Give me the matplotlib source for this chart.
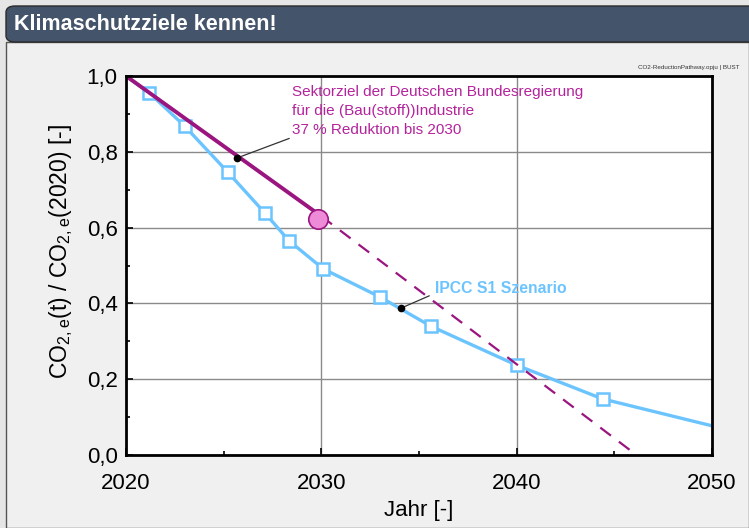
import matplotlib.pyplot as plt
from matplotlib.patches import FancyBboxPatch, Rectangle

# IPCC S1 scenario
ipcc_years = [2020, 2021.2, 2023.0, 2025.2, 2027.1, 2028.35, 2030.1, 2033.0, 2035.6, 2040.0, 2044.4, 2050]
ipcc_values = [1.0, 0.955, 0.868, 0.747, 0.639, 0.565, 0.491, 0.417, 0.340, 0.237, 0.148, 0.077]
ipcc_marked = [2021.2, 2023.0, 2025.2, 2027.1, 2028.35, 2030.1, 2033.0, 2035.6, 2040.0, 2044.4]
ipcc_marked_values = [0.955, 0.868, 0.747, 0.639, 0.565, 0.491, 0.417, 0.340, 0.237, 0.148]

# Sektorziel: solid until 2030, dashed extrapolation
goal_years = [2020, 2030]
goal_values = [1.0, 0.63]
extra_years = [2030, 2045.8]
extra_values = [0.63, 0.013]

x_ticks = [2020, 2030, 2040, 2050]
y_ticks = [0.0, 0.2, 0.4, 0.6, 0.8, 1.0]
y_ticklabels = ["0,0", "0,2", "0,4", "0,6", "0,8", "1,0"]

BLUE = "#6cc4ff"
PURPLE = "#9b1580"
MAGENTA_TXT = "#b4239c"

plt.rcParams["font.family"] = ["Liberation Sans", "DejaVu Sans"]

fig = plt.figure(figsize=(7.49, 5.28), dpi=100)
fig.patch.set_facecolor("#e6e6e6")

# panel + title bar
fig.patches.append(Rectangle((6 / 749, 0), 743 / 749, 486 / 528, transform=fig.transFigure,
                             facecolor="#f0f0f0", edgecolor="#555555", lw=1.0, zorder=0))
fig.patches.append(FancyBboxPatch((6 / 749, 486 / 528), 760 / 749, 36 / 528, transform=fig.transFigure,
                                  boxstyle="round,pad=0,rounding_size=0.012",
                                  facecolor="#44546a", edgecolor="#2b2b2b", lw=1.0, zorder=1))
fig.text(14 / 749, 504 / 528, "Klimaschutzziele kennen!", color="white", fontsize=15.5,
         fontweight="bold", va="center", ha="left")
fig.text(740 / 749, 461 / 528, "CO2-ReductionPathway.opju | BUST", color="#333333",
         fontsize=4.5, ha="right", va="center")

ax = fig.add_axes([126 / 749, 73 / 528, 586 / 749, 379 / 528])
ax.set_zorder(5)
ax.set_facecolor("white")

ax.plot(ipcc_years, ipcc_values, color=BLUE, lw=2.4, zorder=3, solid_capstyle="butt")
ax.plot(ipcc_marked, ipcc_marked_values, ls="none", marker="s", ms=8, mfc="white",
        mec=BLUE, mew=1.8, zorder=4)

ax.plot(goal_years, goal_values, color=PURPLE, lw=2.8, zorder=5)
ax.plot(extra_years, extra_values, color=PURPLE, lw=1.6, ls=(0, (6, 4.5)), zorder=5)
ax.plot([goal_years[-1] - 0.15], [0.623], marker="o", ms=14, mfc="#ee8bd8", mec=PURPLE,
        mew=1.2, zorder=6, clip_on=False)

# annotations
ax.annotate("Sektorziel der Deutschen Bundesregierung\nfür die (Bau(stoff))Industrie\n37 % Reduktion bis 2030",
            xy=(2025.7, 0.784), xytext=(2028.5, 0.975), color=MAGENTA_TXT, fontsize=11,
            ha="left", va="top", linespacing=1.45,
            arrowprops=dict(arrowstyle="-", color="#333333", lw=0.9,
                            relpos=(0.0, 0.0), shrinkA=0, shrinkB=0))
ax.plot([2025.7], [0.784], "o", color="black", ms=4.5, zorder=7)

ax.annotate("IPCC S1 Szenario", xy=(2034.1, 0.388), xytext=(2035.8, 0.44),
            color=BLUE, fontsize=11.3, fontweight="bold", ha="left", va="center",
            arrowprops=dict(arrowstyle="-", color="#333333", lw=0.9,
                            relpos=(0.0, 0.15), shrinkA=2, shrinkB=0))
ax.plot([2034.1], [0.388], "o", color="black", ms=4.5, zorder=7)

ax.set_xlim(2020, 2050)
ax.set_ylim(0, 1.0)
ax.set_xticks(x_ticks)
ax.set_xticks([2025, 2035, 2045], minor=True)
ax.set_yticks(y_ticks)
ax.set_yticklabels(y_ticklabels)
ax.set_yticks([0.1, 0.3, 0.5, 0.7, 0.9], minor=True)
ax.tick_params(which="both", direction="in", labelsize=16, width=1.2, length=5)
ax.tick_params(which="minor", length=3)
ax.tick_params(axis="x", which="major", pad=13)
ax.tick_params(axis="y", which="major", pad=6)
ax.grid(True, which="major", color="#8a8a8a", lw=1.0, zorder=1)
for s in ax.spines.values():
    s.set_linewidth(2.0)
    s.set_zorder(8)

ax.set_xlabel("Jahr [-]", fontsize=16, labelpad=4)
ax.set_ylabel(r"CO$_\mathregular{2,e}$(t) / CO$_\mathregular{2,e}$(2020) [-]", fontsize=16.5)
ax.yaxis.set_label_coords(-51 / 586, (455 - 252) / 379)

fig.savefig("out.png", dpi=100, facecolor=fig.get_facecolor())
